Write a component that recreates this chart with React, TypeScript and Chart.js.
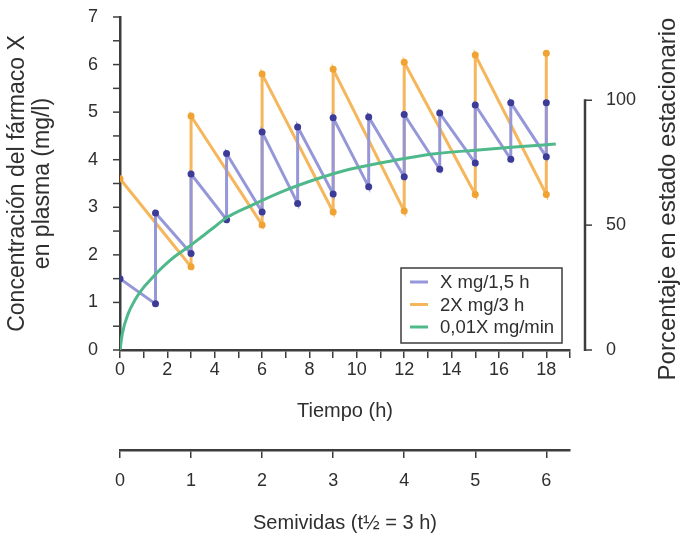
import { useEffect, useRef } from 'react';
import { Chart, registerables } from 'chart.js';

Chart.register(...registerables);

// ---- data ----
const blueTimes = [0, 1.5, 1.5, 3, 3, 4.5, 4.5, 6, 6, 7.5, 7.5, 9, 9, 10.5, 10.5, 12, 12, 13.5, 13.5, 15, 15, 16.5, 16.5, 18, 18];
const blueConc = [1.5, 0.97, 2.88, 2.03, 3.7, 2.74, 4.13, 2.9, 4.58, 3.08, 4.69, 3.28, 4.88, 3.43, 4.9, 3.64, 4.95, 3.8, 4.98, 3.93, 5.15, 4.01, 5.2, 4.06, 5.2];
const orangeTimes = [0, 3, 3, 6, 6, 9, 9, 12, 12, 15, 15, 18, 18];
const orangeConc = [3.6, 1.75, 4.92, 2.63, 5.8, 2.9, 5.9, 2.92, 6.05, 3.27, 6.2, 3.27, 6.24];
const greenTimes = [0, 0.1, 0.35, 0.63, 0.91, 1.2, 1.55, 1.9, 2.3, 2.9, 3.45, 4.0, 4.4, 5.6, 7.0, 8.4, 9.7, 11.5, 13.2, 15, 16.8, 18.4];
const greenConc = [0, 0.35, 0.77, 1.05, 1.26, 1.43, 1.62, 1.79, 1.96, 2.17, 2.38, 2.59, 2.75, 3.05, 3.36, 3.61, 3.8, 3.98, 4.12, 4.2, 4.27, 4.33];

const seriesLabels = ['X mg/1,5 h', '2X mg/3 h', '0,01X mg/min'];
const timeMax = 19;
const concMax = 7;
const halfLife = 3;
const steadyStateConc = 5.25; // mg/l at 100 %
const percentTicks = [0, 50, 100];

const yTitle = ['Concentración del fármaco X', 'en plasma (mg/l)'];
const xTitle = 'Tiempo (h)';
const x2Title = 'Semividas (t½ = 3 h)';
const y2Title = 'Porcentaje en estado estacionario';

// ---- styles ----
const FONT = '"Liberation Sans", Arial, Helvetica, sans-serif';
const AXIS = '#3d3d3d';
const TEXT = '#2f2f2f';
const BLUE_LINE = '#9597d8';
const BLUE_PT = '#3c3c98';
const ORANGE_LINE = '#f6b65c';
const ORANGE_PT = '#f0a232';
const GREEN_LINE = '#4fb98b';
const CLEAR = 'rgba(0,0,0,0)';

const toPoints = (xs: number[], ys: number[]) => xs.map((x, i) => ({ x, y: ys[i] }));

const axisMarksPlugin = {
  id: 'axisMarks',
  afterDraw(chart: any) {
    const { ctx, chartArea } = chart;
    ctx.save();
    ctx.strokeStyle = AXIS;
    // left axis tick marks
    const sy = chart.scales.y;
    ctx.lineWidth = 1.5;
    sy.ticks.forEach((t: any) => {
      const py = sy.getPixelForValue(t.value);
      ctx.beginPath();
      ctx.moveTo(chartArea.left, py);
      ctx.lineTo(chartArea.left - 7, py);
      ctx.stroke();
    });
    // right percentage axis
    const s = chart.scales.y2;
    const x = chartArea.right + 15;
    ctx.lineWidth = 2.5;
    ctx.beginPath();
    ctx.moveTo(x, s.getPixelForValue(percentTicks[0]) + 1);
    ctx.lineTo(x, s.getPixelForValue(percentTicks[percentTicks.length - 1]) - 1);
    ctx.stroke();
    ctx.lineWidth = 1.5;
    percentTicks.forEach((v) => {
      const py = s.getPixelForValue(v);
      ctx.beginPath();
      ctx.moveTo(x, py);
      ctx.lineTo(x + 7, py);
      ctx.stroke();
    });
    ctx.fillStyle = TEXT;
    ctx.font = `24px ${FONT}`;
    ctx.textAlign = 'center';
    ctx.textBaseline = 'middle';
    ctx.translate(chart.width - 17, 199);
    ctx.rotate(-Math.PI / 2);
    ctx.fillText(y2Title, 0, 0);
    ctx.restore();
  },
};

const legendPlugin = {
  id: 'boxLegend',
  afterDraw(chart: any) {
    const { ctx, chartArea } = chart;
    const w = 161;
    const h = 75;
    const x0 = chartArea.right - 8 - w;
    const y0 = chartArea.bottom - 7 - h;
    ctx.save();
    ctx.fillStyle = '#ffffff';
    ctx.fillRect(x0, y0, w, h);
    ctx.strokeStyle = AXIS;
    ctx.lineWidth = 1.5;
    ctx.strokeRect(x0, y0, w, h);
    const colors = [BLUE_LINE, ORANGE_LINE, GREEN_LINE];
    ctx.font = `18.5px ${FONT}`;
    ctx.textBaseline = 'middle';
    ctx.textAlign = 'left';
    seriesLabels.forEach((lab, i) => {
      const yy = y0 + 14 + i * 22.5;
      ctx.strokeStyle = colors[i];
      ctx.lineWidth = 3;
      ctx.beginPath();
      ctx.moveTo(x0 + 9, yy);
      ctx.lineTo(x0 + 27, yy);
      ctx.stroke();
      ctx.fillStyle = TEXT;
      ctx.fillText(lab, x0 + 39, yy + 1);
    });
    ctx.restore();
  },
};

export default function App() {
  const ref = useRef<HTMLCanvasElement | null>(null);

  useEffect(() => {
    if (!ref.current) return;
    const chart = new Chart(ref.current, {
      type: 'line',
      data: {
        datasets: [
          {
            label: seriesLabels[2],
            data: toPoints(greenTimes, greenConc),
            borderColor: GREEN_LINE,
            borderWidth: 3,
            pointRadius: 0,
            cubicInterpolationMode: 'monotone',
            fill: false,
            order: 0,
          },
          {
            label: seriesLabels[0],
            data: toPoints(blueTimes, blueConc),
            borderColor: BLUE_LINE,
            borderWidth: 3,
            pointRadius: 3.5,
            pointBackgroundColor: BLUE_PT,
            pointBorderWidth: 0,
            tension: 0,
            fill: false,
            order: 1,
          },
          {
            label: seriesLabels[1],
            data: toPoints(orangeTimes, orangeConc),
            borderColor: ORANGE_LINE,
            borderWidth: 3,
            pointRadius: 3.5,
            pointBackgroundColor: ORANGE_PT,
            pointBorderWidth: 0,
            tension: 0,
            fill: false,
            order: 2,
          },
        ],
      },
      options: {
        responsive: false,
        animation: false,
        layout: { padding: { top: 17, left: 0, right: 0, bottom: 0 } },
        plugins: { legend: { display: false }, tooltip: { enabled: false } },
        scales: {
          x: {
            type: 'linear',
            position: 'bottom',
            weight: 0,
            min: 0,
            max: timeMax,
            afterFit: (s: any) => { s.height = 100; },
            border: { color: AXIS, width: 2.5 },
            grid: { drawOnChartArea: false, drawTicks: true, tickLength: 8, color: AXIS, lineWidth: 1.5 },
            ticks: {
              stepSize: 1,
              includeBounds: false,
              autoSkip: false,
              maxRotation: 0,
              padding: 1,
              color: TEXT,
              font: { family: FONT, size: 18 },
              callback: (v: any) => (v % 2 === 0 && v <= 18 ? String(v) : ''),
            },
            title: { display: true, text: xTitle, color: TEXT, font: { family: FONT, size: 20 }, padding: { top: 0, bottom: 27 } },
          },
          x2: {
            type: 'linear',
            position: 'bottom',
            weight: 1,
            min: 0,
            max: timeMax / halfLife,
            afterFit: (s: any) => { s.height = 89; },
            border: { color: AXIS, width: 2.5 },
            grid: { drawOnChartArea: false, drawTicks: true, tickLength: 8, color: AXIS, lineWidth: 1.5 },
            ticks: {
              stepSize: 1,
              includeBounds: false,
              autoSkip: false,
              maxRotation: 0,
              padding: 12,
              color: TEXT,
              font: { family: FONT, size: 18 },
            },
            title: { display: true, text: x2Title, color: TEXT, font: { family: FONT, size: 20 }, padding: { top: 0, bottom: 4 } },
          },
          y: {
            type: 'linear',
            position: 'left',
            min: 0,
            max: concMax,
            afterFit: (s: any) => { s.width = 120; },
            border: { color: AXIS, width: 2.5 },
            grid: { drawOnChartArea: false, drawTicks: true, tickLength: 20, color: CLEAR, tickColor: CLEAR },
            ticks: {
              stepSize: 0.5,
              autoSkip: false,
              padding: 2,
              color: TEXT,
              font: { family: FONT, size: 18 },
              callback: (v: any) => (Number.isInteger(v) ? String(v) : ''),
            },
            title: { display: true, text: yTitle, color: TEXT, font: { family: FONT, size: 23, lineHeight: 1.05 }, padding: { top: 6, bottom: 0 } },
          },
          y2: {
            type: 'linear',
            position: 'right',
            min: 0,
            max: (concMax / steadyStateConc) * 100,
            afterFit: (s: any) => { s.width = 115; },
            afterBuildTicks: (s: any) => { s.ticks = percentTicks.map((v) => ({ value: v })); },
            border: { display: false },
            grid: { display: true, drawOnChartArea: false, drawTicks: true, tickLength: 36, color: CLEAR, tickColor: CLEAR },
            ticks: {
              autoSkip: false,
              padding: 0,
              color: TEXT,
              font: { family: FONT, size: 18 },
            },
          },
        },
      },
      plugins: [axisMarksPlugin, legendPlugin],
    } as any);
    return () => chart.destroy();
  }, []);

  return (
    <div style={{ position: 'absolute', left: 0, top: 0, width: 685, height: 539, background: '#fff' }}>
      <canvas ref={ref} width={685} height={539} style={{ display: 'block' }} />
    </div>
  );
}
